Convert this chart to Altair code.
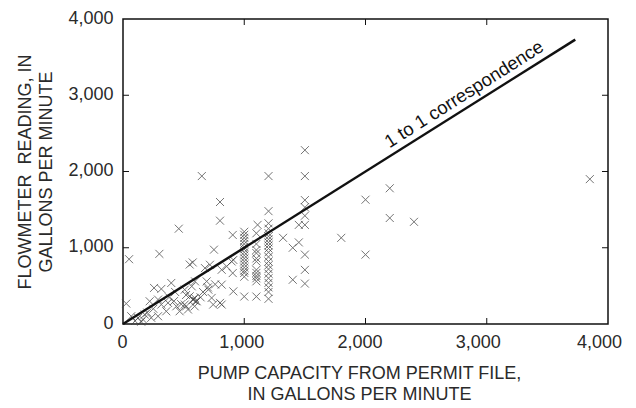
import altair as alt
import pandas as pd

# pump capacity (x) and flowmeter reading (y), gallons per minute
px = [1500, 650, 1200, 1500, 800, 1500, 1200, 800, 2000, 2200, 2200, 2400, 1800, 2000, 3850, 460, 50, 300, 550,
      1500, 1500, 1500, 1500, 1500, 1500, 1450, 1450, 1400, 1400, 1320, 1110, 905, 750, 910,
      1000, 1000, 1000, 1000, 1000, 1000, 1000, 1000, 1000, 1000, 1000, 1000, 1000, 1000, 1000, 1000, 1000,
      1100, 1100, 1100, 1100, 1100, 1100, 1100, 1100, 1100, 1100, 1100, 1100,
      1200, 1200, 1200, 1200, 1200, 1200, 1200, 1200, 1200, 1200, 1200, 1200, 1200, 1200, 1200, 1200, 1200, 1200, 1200,
      575, 676, 717, 814, 855, 896, 905, 594, 567, 690, 704, 731, 800, 814, 910, 580, 608, 744, 814,
      27, 256, 316, 398, 509, 550, 591, 220, 289, 316, 371, 68, 124, 179, 233, 289, 165, 357, 440, 467,
      100, 150, 200, 250, 420, 480, 520, 600, 640, 660, 700, 760, 520, 430, 380, 577, 509, 536, 591]
py = [2280, 1940, 1940, 1940, 1600, 1625, 1480, 1355, 1630, 1780, 1390, 1340, 1130, 910, 1900, 1250, 850, 920, 780,
      1530, 1420, 1300, 910, 710, 530, 1300, 1070, 1000, 580, 1130, 1300, 1168, 975, 840,
      1210, 1170, 1130, 1090, 1050, 1010, 980, 940, 900, 860, 820, 780, 740, 700, 670, 620, 360,
      1190, 1050, 970, 930, 860, 820, 710, 670, 630, 600, 560, 360,
      1320, 1250, 1190, 1150, 1110, 1070, 1030, 990, 940, 880, 820, 770, 720, 660, 600, 540, 480, 420, 330,
      807, 733, 777, 711, 755, 820, 668, 559, 494, 559, 450, 342, 277, 516, 428, 320, 298, 255, 255,
      268, 473, 460, 538, 450, 363, 342, 298, 320, 255, 277, 102, 81, 124, 81, 102, 59, 167, 232, 167,
      40, 30, 150, 200, 300, 260, 230, 300, 350, 420, 480, 520, 380, 420, 350, 320, 255, 190, 232]

line_x = [0, 3730]
line_y = [0, 3730]
tick_vals = [1000, 2000, 3000]
axis_vals = [0, 1000, 2000, 3000, 4000]

W, H = 485, 305
FONT = "Liberation Sans"
TXT = "#2a2a2a"

pts = pd.DataFrame({"x": px, "y": py})
ln = pd.DataFrame({"x": line_x, "y": line_y})
tk = pd.DataFrame({"v": tick_vals})
lab = pd.DataFrame({"x": [2870], "y": [2870], "t": ["1 to 1 correspondence"]})

xs = alt.Scale(domain=[0, 4000], nice=False)
ys = alt.Scale(domain=[0, 4000], nice=False)

xoff = {"condition": [
    {"test": "datum.value == 1000", "value": -3},
    {"test": "datum.value == 2000", "value": -6},
    {"test": "datum.value == 3000", "value": -9},
    {"test": "datum.value == 4000", "value": -9},
], "value": -1}

xax = alt.Axis(values=axis_vals, format=",.0f", ticks=False, domain=False, grid=False,
               labelFont=FONT, labelFontSize=18, labelColor=TXT, labelPadding=9, labelOffset=xoff,
               labelFlush=False,
               titleFont=FONT, titleFontSize=18, titleFontWeight="normal", titleColor=TXT,
               titleX=236, titleY=54, titleBaseline="alphabetic", titleAlign="center",
               titleLineHeight=21.5)
yax = alt.Axis(values=axis_vals, format=",.0f", ticks=False, domain=False, grid=False,
               labelFont=FONT, labelFontSize=18, labelColor=TXT, labelPadding=10, labelOffset=-1,
               labelFlush=False,
               titleFont=FONT, titleFontSize=18, titleFontWeight="normal", titleColor=TXT,
               titleX=-93, titleY=H / 2, titleBaseline="alphabetic", titleAlign="center",
               titleAngle=270, titleLineHeight=21)

cross = "M-1,-1L1,1M-1,1L1,-1"
points = alt.Chart(pts).mark_point(shape=cross, size=64, filled=False, stroke="#3a3a3a", strokeWidth=1).encode(
    x=alt.X("x:Q", scale=xs, axis=xax, title=["PUMP CAPACITY FROM PERMIT FILE,", "IN GALLONS PER MINUTE"]),
    y=alt.Y("y:Q", scale=ys, axis=yax, title=["FLOWMETER\u00a0 READING, IN", "GALLONS PER MINUTE"]),
)

line = alt.Chart(ln).mark_line(color="#111", strokeWidth=2.5).encode(
    x=alt.X("x:Q", scale=xs), y=alt.Y("y:Q", scale=ys))

text = alt.Chart(lab).mark_text(angle=327.7, font=FONT, fontSize=18.5, color="#111", align="center",
                                baseline="bottom", dy=-3).encode(
    x=alt.X("x:Q", scale=xs), y=alt.Y("y:Q", scale=ys), text="t:N")

tb = alt.Chart(tk).mark_rule(color="#111", strokeWidth=1).encode(
    x=alt.X("v:Q", scale=xs), y=alt.value(H), y2=alt.value(H - 6))
tt = alt.Chart(tk).mark_rule(color="#111", strokeWidth=1).encode(
    x=alt.X("v:Q", scale=xs), y=alt.value(0), y2=alt.value(6))
tl = alt.Chart(tk).mark_rule(color="#111", strokeWidth=1).encode(
    y=alt.Y("v:Q", scale=ys), x=alt.value(0), x2=alt.value(6))
tr = alt.Chart(tk).mark_rule(color="#111", strokeWidth=1).encode(
    y=alt.Y("v:Q", scale=ys), x=alt.value(W), x2=alt.value(W - 6))

chart = alt.layer(points, line, text, tb, tt, tl, tr).properties(
    width=W, height=H,
    autosize=alt.AutoSizeParams(type="none"),
    padding={"left": 123, "top": 19, "right": 28, "bottom": 84},
    background="white",
).configure_view(stroke="#111", strokeWidth=1.5)

chart.save("out.html", embed_options={"renderer": "svg", "actions": False})
